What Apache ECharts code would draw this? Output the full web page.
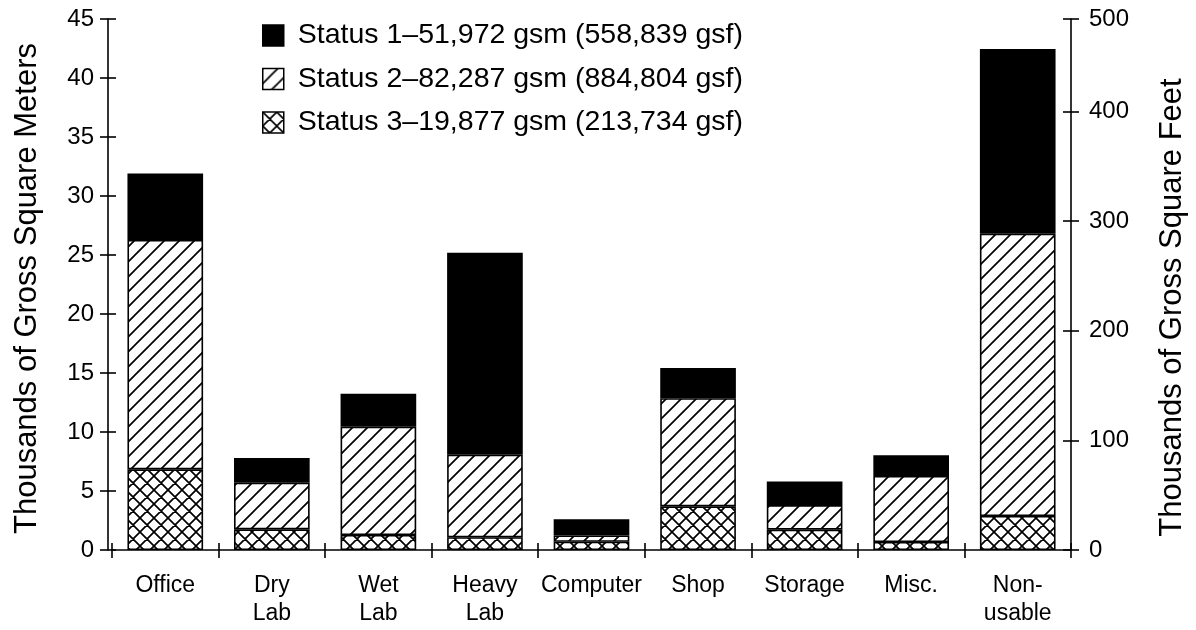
<!DOCTYPE html>
<html>
<head>
<meta charset="utf-8">
<script src="https://cdn.jsdelivr.net/npm/echarts@6/dist/echarts.min.js"></script>
<style>
html,body{margin:0;padding:0;background:#fff;}
#chart{width:1196px;height:630px;}
</style>
</head>
<body>
<div id="chart"></div>
<script>
// ---- data (thousands of gross square meters) ----
const categories = ['Office', 'Dry\nLab', 'Wet\nLab', 'Heavy\nLab', 'Computer', 'Shop', 'Storage', 'Misc.', 'Non-\nusable'];
const status3 = [6.84, 1.75, 1.27, 1.08, 0.70, 3.70, 1.72, 0.68, 2.88];
const status2 = [19.43, 3.95, 9.18, 7.00, 0.53, 9.16, 2.09, 5.59, 23.92];
const status1 = [5.63, 2.10, 2.80, 17.12, 1.37, 2.57, 2.00, 1.75, 15.65];
const seriesNames = [
  'Status 1\u201351,972 gsm (558,839 gsf)',
  'Status 2\u201382,287 gsm (884,804 gsf)',
  'Status 3\u201319,877 gsm (213,734 gsf)'
];
const leftTicks = [0, 5, 10, 15, 20, 25, 30, 35, 40, 45];
const rightTicks = [0, 100, 200, 300, 400, 500];
const gsfPerGsm = 10.7639;

// ---- patterns ----
function hatch(size, cross) {
  const c = document.createElement('canvas');
  c.width = size; c.height = size;
  const g = c.getContext('2d');
  g.fillStyle = '#fff';
  g.fillRect(0, 0, size, size);
  g.strokeStyle = '#000';
  g.lineWidth = 1.7;
  g.beginPath();
  g.moveTo(-size, size); g.lineTo(size, -size);
  g.moveTo(0, size); g.lineTo(size, 0);
  g.moveTo(0, 2 * size); g.lineTo(2 * size, 0);
  if (cross) {
    g.moveTo(-size, 0); g.lineTo(size, 2 * size);
    g.moveTo(0, 0); g.lineTo(size, size);
    g.moveTo(0, -size); g.lineTo(2 * size, size);
  }
  g.stroke();
  return c;
}
const diagPattern = { image: hatch(15, false), repeat: 'repeat' };
const crossPattern = { image: hatch(14, true), repeat: 'repeat' };

const font = '"Liberation Sans", Arial, Helvetica, sans-serif';
const leftMax = leftTicks[leftTicks.length - 1];
const rightMax = leftMax * gsfPerGsm;
const rightPos = rightTicks.map(v => Math.min(v, rightMax));

const chart = echarts.init(document.getElementById('chart'), null, { renderer: 'canvas' });

const barBase = {
  type: 'bar',
  stack: 'total',
  barWidth: '71%',
  xAxisIndex: 0,
  yAxisIndex: 0,
  animation: false
};

chart.setOption({
  backgroundColor: '#fff',
  animation: false,
  grid: { left: 112, right: 124, top: 19, bottom: 80, containLabel: false },
  legend: {
    orient: 'vertical',
    left: 262,
    top: 21,
    padding: 0,
    itemWidth: 21,
    itemHeight: 21,
    itemGap: 14.5,
    icon: 'rect',
    selectedMode: false,
    data: [seriesNames[0], seriesNames[1], seriesNames[2]],
    itemStyle: { borderColor: '#000', borderWidth: 1.5 },
    textStyle: { fontFamily: font, fontSize: 28.5, lineHeight: 22, color: '#000', padding: [0, 0, 0, 9] }
  },
  xAxis: [
    {
      type: 'category',
      data: categories,
      position: 'bottom',
      axisLine: { show: true, lineStyle: { color: '#000', width: 1.6 } },
      axisTick: { show: true, length: 8, lineStyle: { color: '#000', width: 1.6 } },
      axisLabel: { interval: 0, color: '#000', fontFamily: font, fontSize: 23, lineHeight: 28, margin: 22 }
    },
    {
      type: 'category',
      data: categories,
      position: 'bottom',
      offset: 0,
      axisLine: { show: false },
      axisTick: { show: true, inside: true, length: 7, lineStyle: { color: '#000', width: 1.6 } },
      axisLabel: { show: false }
    }
  ],
  yAxis: [
    {
      type: 'value',
      position: 'left',
      offset: 4,
      min: 0, max: leftMax, interval: 5,
      name: 'Thousands of Gross Square Meters',
      nameLocation: 'middle',
      nameGap: 65,
      nameTextStyle: { fontFamily: font, fontSize: 31, color: '#000', padding: [0, 8, 0, 0] },
      splitLine: { show: false },
      axisLine: { show: true, lineStyle: { color: '#000', width: 1.6 } },
      axisTick: { show: true, length: 8, lineStyle: { color: '#000', width: 1.6 } },
      axisLabel: { color: '#000', fontFamily: font, fontSize: 24, margin: 14 }
    },
    {
      type: 'value',
      position: 'left',
      offset: 4,
      min: 0, max: leftMax, interval: 5,
      splitLine: { show: false },
      axisLine: { show: false },
      axisTick: { show: true, inside: true, length: 8, lineStyle: { color: '#000', width: 1.6 } },
      axisLabel: { show: false }
    },
    {
      type: 'value',
      position: 'right',
      offset: 0,
      min: 0, max: rightMax,
      name: 'Thousands of Gross Square Feet',
      nameLocation: 'middle',
      nameGap: 86,
      nameTextStyle: { fontFamily: font, fontSize: 31, color: '#000', padding: [0, 46, 0, 0] },
      splitLine: { show: false },
      axisLine: { show: true, lineStyle: { color: '#000', width: 1.6 } },
      axisTick: { show: true, length: 8, customValues: rightPos, lineStyle: { color: '#000', width: 1.6 } },
      axisLabel: {
        color: '#000', fontFamily: font, fontSize: 24, margin: 18,
        customValues: rightPos,
        formatter: function (value) {
          let best = 0;
          for (let i = 0; i < rightPos.length; i++) {
            if (Math.abs(rightPos[i] - value) < Math.abs(rightPos[best] - value)) best = i;
          }
          return String(rightTicks[best]);
        }
      }
    },
    {
      type: 'value',
      position: 'right',
      offset: 0,
      min: 0, max: rightMax,
      splitLine: { show: false },
      axisLine: { show: false },
      axisTick: { show: true, inside: true, length: 8, customValues: rightPos, lineStyle: { color: '#000', width: 1.6 } },
      axisLabel: { show: false }
    }
  ],
  series: [
    Object.assign({}, barBase, {
      name: seriesNames[2],
      data: status3,
      itemStyle: { color: crossPattern, borderColor: '#000', borderWidth: 1.6 }
    }),
    Object.assign({}, barBase, {
      name: seriesNames[1],
      data: status2,
      itemStyle: { color: diagPattern, borderColor: '#000', borderWidth: 1.6 }
    }),
    Object.assign({}, barBase, {
      name: seriesNames[0],
      data: status1,
      itemStyle: { color: '#000', borderColor: '#000', borderWidth: 1.6 }
    })
  ]
});
</script>
</body>
</html>
